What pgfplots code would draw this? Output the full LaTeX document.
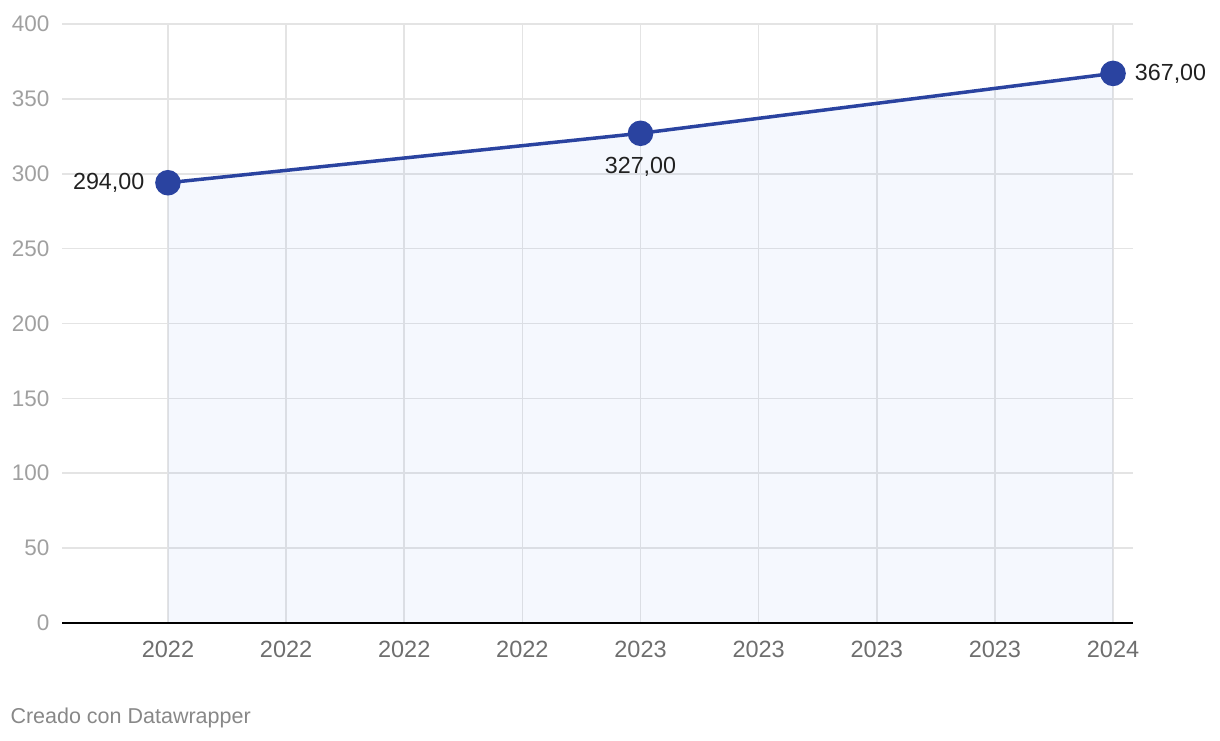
\documentclass[border=0pt]{standalone}
\usepackage{pgfplots}
\pgfplotsset{compat=1.18}
\usepackage{fontspec}
\setmainfont{Liberation Sans}
\definecolor{linec}{HTML}{2A43A0}
\definecolor{fillc}{RGB}{0,76,230}
\definecolor{gridc}{HTML}{E4E4E4}
\definecolor{ylab}{HTML}{A0A0A0}
\definecolor{xlab}{HTML}{6E6E6E}
\definecolor{foot}{HTML}{888888}
\begin{document}
\begin{tikzpicture}[x=1pt,y=1pt]
\path[use as bounding box] (0,0) rectangle (1220,740);
\begin{axis}[
  at={(62pt,117pt)}, anchor=south west,
  scale only axis, width=1071pt, height=599pt,
  xmin=-0.897, xmax=8.169, ymin=0, ymax=400,
  axis line style={draw=none},
  xtick={0,1,2,3,4,5,6,7,8},
  xticklabels={2022,2022,2022,2022,2023,2023,2023,2023,2024},
  ytick={0,50,100,150,200,250,300,350,400},
  major tick length=0pt,
  grid=major,
  major grid style={gridc, line width=1.6pt},
  x tick label style={xlab, yshift=-15pt, font=\fontsize{23.5}{26}\selectfont},
  y tick label style={ylab, xshift=-9pt, font=\fontsize{22.5}{26}\selectfont},
  /pgf/number format/assume math mode=true,
  clip=false,
]
\addplot[fill=fillc, fill opacity=0.04, draw=none] coordinates {(0,0) (0,294) (4,327) (8,367) (8,0)} \closedcycle;
\draw[black, line width=2pt] (axis cs:-0.897,0) -- (axis cs:8.169,0);
\addplot[linec, line width=3.5pt, mark=*, mark size=11pt, mark options={fill=linec, draw=none}]
  coordinates {(0,294) (4,327) (8,367)};
\node[anchor=east, font=\fontsize{23.3}{26}\selectfont, text=black!87] at (axis cs:-0.17,294) {294,00};
\node[anchor=north, font=\fontsize{23.3}{26}\selectfont, text=black!87] at (axis cs:4,327) [yshift=-20pt] {327,00};
\node[anchor=west, font=\fontsize{23.3}{26}\selectfont, text=black!87] at (axis cs:8.155,367) {367,00};
\end{axis}
\node[anchor=base west, text=foot, font=\fontsize{21.5}{24}\selectfont] at (7,17) {Creado con Datawrapper};
\end{tikzpicture}
\end{document}
